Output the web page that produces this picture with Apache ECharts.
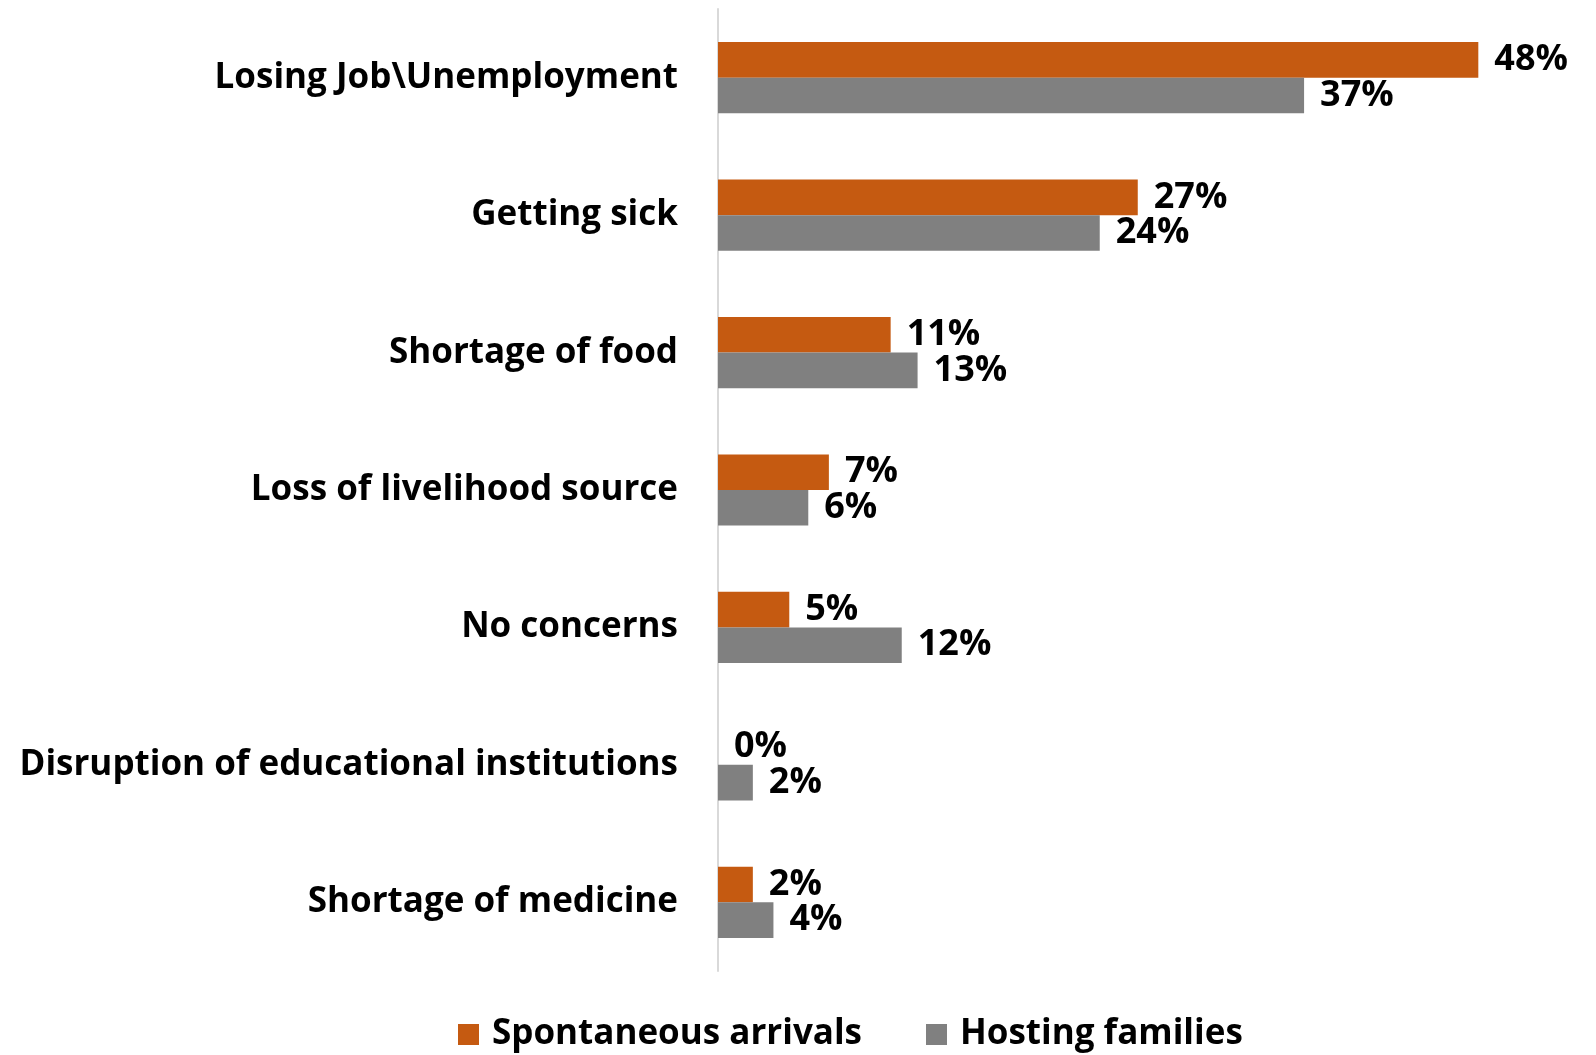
<!DOCTYPE html>
<html>
<head>
<meta charset="utf-8">
<script src="https://cdn.jsdelivr.net/npm/echarts@6/dist/echarts.min.js"></script>
<style>
  html, body { margin: 0; padding: 0; background: #fff; }
  #main { width: 1596px; height: 1055px; }
</style>
</head>
<body>
<div id="main"></div>
<script>
// categories top to bottom
const categories = [
  'Losing Job\\Unemployment',
  'Getting sick',
  'Shortage of food',
  'Loss of livelihood source',
  'No concerns',
  'Disruption of educational institutions',
  'Shortage of medicine'
];
// values (labels show them rounded)
const spontaneous = [48, 26.5, 10.9, 7, 4.5, 0, 2.2];
const hosting = [37, 24.1, 12.6, 5.7, 11.6, 2.2, 3.5];

const FONT = '"Open Sans", sans-serif';

const chart = echarts.init(document.getElementById('main'));

const labelStyle = {
  show: true,
  position: 'right',
  distance: 16,
  formatter: p => Math.round(p.value) + '%',
  color: '#000',
  fontFamily: FONT,
  fontWeight: 'bold',
  fontSize: 36
};

const option = {
  animation: false,
  grid: { left: 718, top: 9, height: 962, right: 86, outerBoundsMode: 'none', containLabel: false },
  xAxis: {
    type: 'value',
    min: 0,
    max: 50,
    show: false
  },
  yAxis: {
    type: 'category',
    inverse: true,
    data: categories,
    axisLine: { show: true, lineStyle: { color: '#d9d9d9', width: 2 } },
    axisTick: { show: false },
    axisLabel: {
      margin: 40,
      color: '#000',
      fontFamily: FONT,
      fontWeight: 'bold',
      fontSize: 35
    }
  },
  legend: {
    bottom: -2,
    left: 453,
    itemWidth: 21,
    itemHeight: 21,
    itemGap: 64,
    icon: 'rect',
    textStyle: {
      color: '#000',
      fontFamily: FONT,
      fontWeight: 'bold',
      fontSize: 35,
      padding: [0, 0, 0, 8]
    },
    data: ['Spontaneous arrivals', 'Hosting families']
  },
  series: [
    {
      name: 'Spontaneous arrivals',
      type: 'bar',
      data: spontaneous,
      barWidth: 35.6,
      barGap: '0%',
      itemStyle: { color: '#c55a11' },
      label: labelStyle
    },
    {
      name: 'Hosting families',
      type: 'bar',
      data: hosting,
      barWidth: 35.6,
      barGap: '0%',
      itemStyle: { color: '#808080' },
      label: labelStyle
    }
  ]
};

option && chart.setOption(option);
</script>
</body>
</html>
